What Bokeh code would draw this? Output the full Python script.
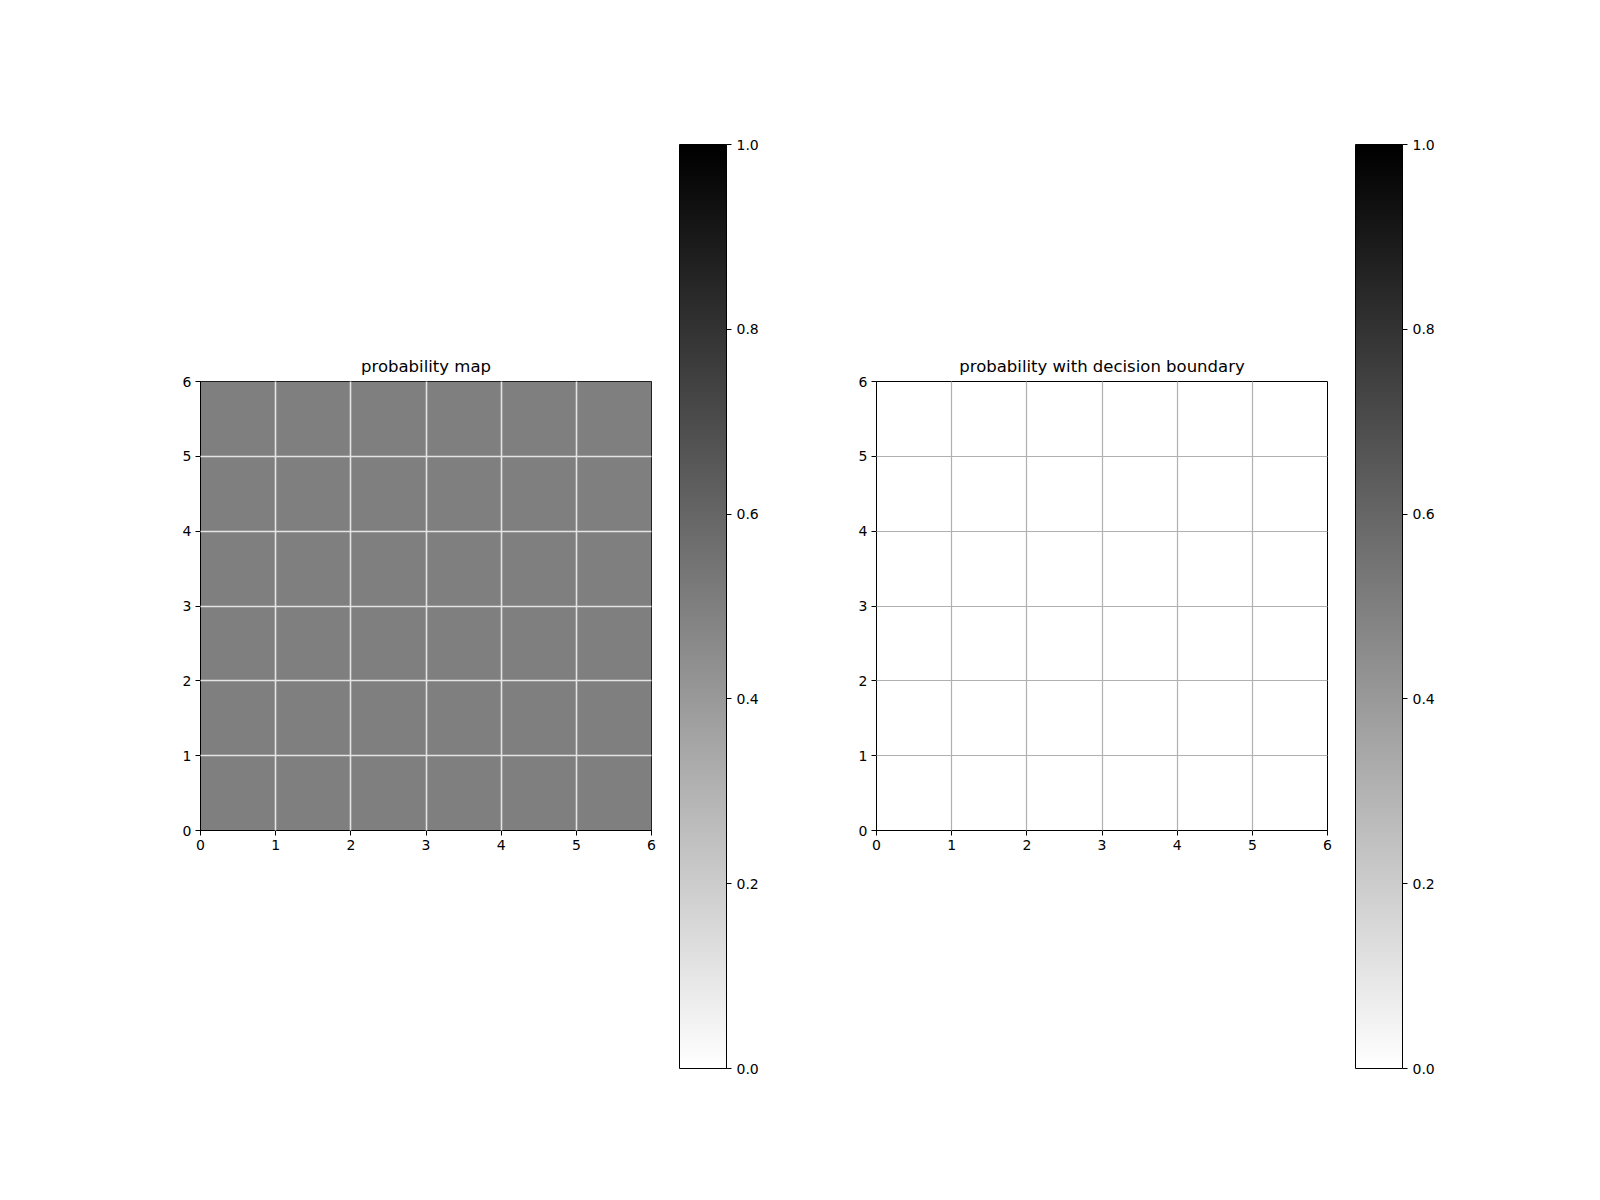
import numpy as np
from bokeh.plotting import figure
from bokeh.layouts import row
from bokeh.models import LinearColorMapper, FixedTicker, PrintfTickFormatter, Range1d, ColorBar
from bokeh.palettes import Greys256
from bokeh.embed import file_html
from bokeh.resources import INLINE

# ---- data ----
grid_x_edges = [0, 1, 2, 3, 4, 5, 6]
grid_y_edges = [0, 1, 2, 3, 4, 5, 6]
prob_values = [
    [0.5, 0.5, 0.5, 0.5, 0.5, 0.5],
    [0.5, 0.5, 0.5, 0.5, 0.5, 0.5],
    [0.5, 0.5, 0.5, 0.5, 0.5, 0.5],
    [0.5, 0.5, 0.5, 0.5, 0.5, 0.5],
    [0.5, 0.5, 0.5, 0.5, 0.5, 0.5],
    [0.5, 0.5, 0.5, 0.5, 0.5, 0.5],
]
axis_ticks = [0, 1, 2, 3, 4, 5, 6]
cbar_ticks = [0.0, 0.2, 0.4, 0.6, 0.8, 1.0]
titles = ["probability map", "probability with decision boundary"]

FONT = "DejaVu Sans"
palette = list(reversed(Greys256))  # 0 -> white, 1 -> black
mapper = LinearColorMapper(palette=palette, low=cbar_ticks[0], high=cbar_ticks[-1])


def style_axes(p):
    for ax in (p.xaxis, p.yaxis):
        ax.major_label_text_font = FONT
        ax.major_label_text_font_size = "14px"
        ax.major_label_text_color = "black"
        ax.major_tick_out = 5
        ax.major_tick_in = 0
        ax.minor_tick_out = 0
        ax.minor_tick_in = 0
        ax.axis_line_color = "black"
        ax.major_tick_line_color = "black"
        ax.major_label_standoff = 4
    p.outline_line_color = "black"
    p.outline_line_alpha = 1.0
    p.title.text_font = FONT
    p.title.text_font_size = "16.5px"
    p.title.text_font_style = "normal"
    p.title.text_color = "black"
    p.title.align = "center"
    p.title.standoff = 12


def heat_panel(title, with_image, border_left, border_right, grid_color, grid_width):
    x0, x1 = grid_x_edges[0], grid_x_edges[-1]
    y0, y1 = grid_y_edges[0], grid_y_edges[-1]
    p = figure(
        output_backend="svg", toolbar_location=None,
        x_range=Range1d(x0, x1), y_range=Range1d(y0, y1),
        frame_width=451, frame_height=449,
        min_border_left=border_left, min_border_right=border_right,
        min_border_top=381, min_border_bottom=370,
        title=title,
    )
    if with_image:
        img = np.array(prob_values, dtype=float)
        p.image(image=[img], x=x0, y=y0, dw=x1 - x0, dh=y1 - y0,
                color_mapper=mapper)
    p.xaxis.ticker = FixedTicker(ticks=axis_ticks)
    p.yaxis.ticker = FixedTicker(ticks=axis_ticks)
    for g in (p.xgrid, p.ygrid):
        g.grid_line_color = grid_color
        g.grid_line_width = grid_width
        g.level = "overlay"
    style_axes(p)

    cb = ColorBar(
        color_mapper=mapper, orientation="vertical",
        location=(479, -238), width=47, height=924, padding=0, margin=0,
        ticker=FixedTicker(ticks=cbar_ticks),
        formatter=PrintfTickFormatter(format="%.1f"),
        major_tick_out=5, major_tick_in=0,
        major_tick_line_color="black", minor_tick_line_color=None,
        bar_line_color="black", bar_line_width=1,
        label_standoff=5,
        major_label_text_font=FONT, major_label_text_font_size="14px",
        major_label_text_color="black",
        background_fill_alpha=0, border_line_color=None,
    )
    p.add_layout(cb, "center")
    return p


left = heat_panel(titles[0], True, 200, 149, "#e4e4e4", 1.6)
right = heat_panel(titles[1], False, 76, 273, "#b0b0b0", 1.2)

layout = row(left, right, spacing=0)

open("out.html", "w").write(file_html(layout, INLINE))
